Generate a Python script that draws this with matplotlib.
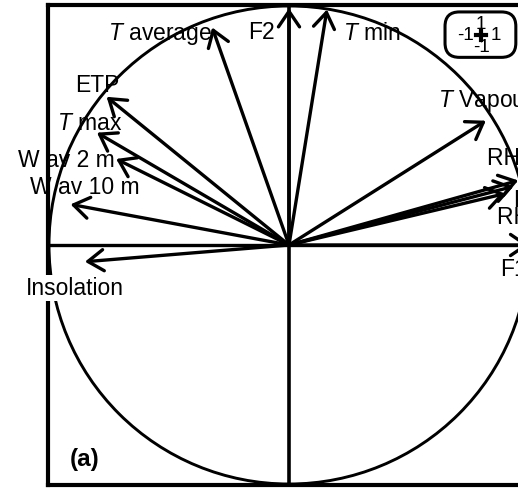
import numpy as np
import matplotlib.pyplot as plt
from matplotlib.patches import Circle, FancyBboxPatch

plt.rcParams['font.family'] = ['Liberation Sans', 'DejaVu Sans']
plt.rcParams['mathtext.fontset'] = 'custom'
plt.rcParams['mathtext.rm'] = 'Liberation Sans'
plt.rcParams['mathtext.it'] = 'Liberation Sans:italic'

# correlations of each variable with F1 / F2
variables = ['F1', 'F2', '$T$ min', '$T$ average', 'ETP', '$T$ max',
             'W av 2 m', 'W av 10 m', 'Insolation', '$T$ Vapour pressure',
             'RH max', 'Precipitation', 'RH min']
f1 = [1.00, 0.00, 0.158, -0.32, -0.76, -0.80, -0.72, -0.91, -0.85, 0.82,
      0.955, 0.935, 0.90]
f2 = [0.00, 0.99, 0.985, 0.91, 0.62, 0.47, 0.36, 0.17, -0.07, 0.52,
      0.27, 0.245, 0.215]

# label anchor (left/right edge, vertical centre)
label_x = [0.879, -0.171, 0.225, -0.32, -0.892, -0.967, -1.129, -1.079,
           -1.096, 0.621, 0.825, 0.933, 0.867]
label_y = [-0.10, 0.894, 0.8875, 0.8875, 0.671, 0.5125, 0.358, 0.246,
           -0.179, 0.608, 0.367, 0.19, 0.121]
label_ha = ['left', 'left', 'left', 'right', 'left', 'left', 'left', 'left',
            'left', 'left', 'left', 'left', 'left']

W, H = 518, 489
fig = plt.figure(figsize=(W / 100, H / 100), dpi=100)
ax = fig.add_axes([48 / W, 3 / H, 482 / W, 480 / H])
lim = 1.004
ax.set_xlim(-lim, lim)
ax.set_ylim(-lim, lim)
ax.set_xticks([])
ax.set_yticks([])
for s in ax.spines.values():
    s.set_linewidth(3)

ax.axhline(0, color='black', lw=2.4, zorder=1)
ax.axvline(0, color='black', lw=2.6, zorder=1)
ax.add_patch(Circle((0, 0), 1.0, fill=False, lw=2.1, color='black', zorder=2))

for x, y in zip(f1, f2):
    ax.annotate('', xy=(x, y), xytext=(0, 0),
                arrowprops=dict(arrowstyle='->,head_length=0.56,head_width=0.38',
                                lw=2.4, color='black', mutation_scale=20,
                                shrinkA=0, shrinkB=0),
                zorder=3, annotation_clip=False)

for name, lx, ly, ha in zip(variables, label_x, label_y, label_ha):
    bbox = None
    if name == 'Insolation':
        bbox = dict(facecolor='white', edgecolor='none', pad=1)
    ax.text(lx, ly, name, ha=ha, va='center', fontsize=16.5, zorder=4,
            bbox=bbox, clip_on=False)

# scale key
ax.add_patch(FancyBboxPatch((0.65, 0.785), 0.295, 0.19,
                            boxstyle='round,pad=0,rounding_size=0.06',
                            fill=False, lw=2.2, ec='black', zorder=4))
kx, ky = 0.80, 0.879
ax.plot([kx - 0.022, kx + 0.022], [ky, ky], color='black', lw=3, zorder=5)
ax.plot([kx, kx], [ky - 0.022, ky + 0.022], color='black', lw=3, zorder=5)
ax.text(kx - 0.03, ky, '-1', ha='right', va='center', fontsize=13.5, zorder=5)
ax.text(kx + 0.04, ky, '1', ha='left', va='center', fontsize=13.5, zorder=5)
ax.text(kx, ky + 0.012, '1', ha='center', va='bottom', fontsize=13.5, zorder=5)
ax.text(kx, ky - 0.015, '-1', ha='center', va='top', fontsize=13.5, zorder=5)

ax.text(-0.85, -0.892, '(a)', ha='center', va='center', fontsize=17.5,
        fontweight='bold')

fig.savefig('out.png', dpi=100)
